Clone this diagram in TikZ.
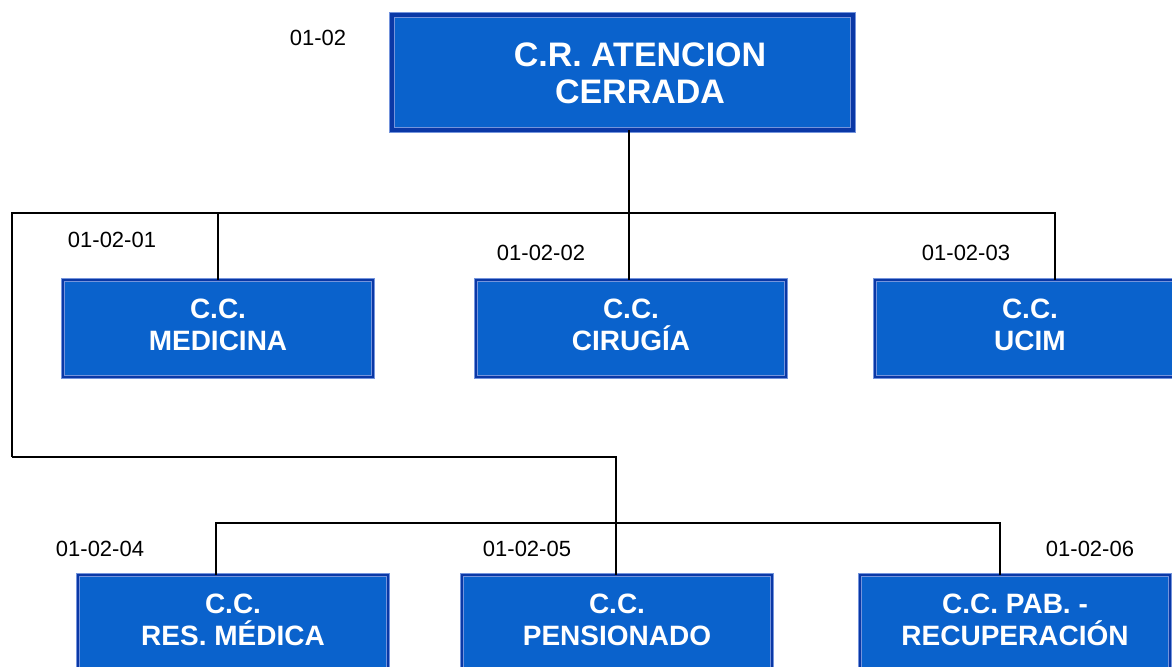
\documentclass[tikz,border=0pt]{standalone}
\usepackage{fontspec}
\setmainfont{Liberation Sans}
\definecolor{boxblue}{HTML}{0A62CC}
\definecolor{boxdark}{HTML}{0A38A6}
\definecolor{boxlight}{HTML}{7494DC}
\begin{document}
\begin{tikzpicture}[x=0.75pt,y=-0.75pt,
    link/.style={line width=2.1pt},
    code/.style={font=\fontsize{16.5}{18}\selectfont},
    unit/.style={fill=boxblue,draw=boxlight,double=boxdark,double distance=1.5pt,
      line width=0.75pt,text=white,align=center,inner sep=0pt,outer sep=0pt,
      minimum width=232.5pt,minimum height=72.75pt,text depth=6pt,
      font=\fontsize{21}{24}\selectfont\bfseries},
    head/.style={unit,double distance=3pt,minimum width=345.75pt,minimum height=86.25pt},
    headtext/.style={text=white,align=center,inner sep=0pt,
      font=\fontsize{25.5}{28}\selectfont\bfseries}]
    \useasboundingbox (0,0) rectangle (1172,667);
    % boxes
    \node[head] (cr) at (622.5,72.5) {};
    \node[headtext] (crtext) at (640,73) {C.R. ATENCION\\CERRADA};
    \node[unit] (med) at (218,328.5) {C.C.\\MEDICINA};
    \node[unit] (cir) at (631,328.5) {C.C.\\CIRUGÍA};
    \node[unit] (ucim) at (1030,328.5) {C.C.\\UCIM};
    \node[unit] (res) at (233,623.5) {C.C.\\RES. MÉDICA};
    \node[unit] (pen) at (617,623.5) {C.C.\\PENSIONADO};
    \node[unit] (pab) at (1015,623.5) {C.C. PAB. -\\RECUPERACIÓN};
    % codes
    \node[code] (kcr) at (318,38) {01-02};
    \node[code] (kmed) at (112,240) {01-02-01};
    \node[code] (kcir) at (541,253) {01-02-02};
    \node[code] (kucim) at (966,253) {01-02-03};
    \node[code] (kres) at (100,549) {01-02-04};
    \node[code] (kpen) at (527,549) {01-02-05};
    \node[code] (kpab) at (1090,549) {01-02-06};
    % lines
    \coordinate (stem) at (629,213);
    \coordinate (upL) at (12,213);
    \coordinate (upR) at (1055,213);
    \coordinate (loL) at (12,457);
    \coordinate (loM) at (616,457);
    \coordinate (baL) at (216,523);
    \coordinate (baR) at (1000,523);
    \draw[link] (cr.south -| stem) -- (cir.north -| stem);
    \draw[link] (loL) -- (upL) -- (upR) -- (upR |- ucim.north);
    \draw[link] (med.north |- upL) -- (med.north);
    \draw[link] (loL) -- (loM) -- (loM |- pen.north);
    \draw[link] (baL |- res.north) -- (baL) -- (baR) -- (baR |- pab.north);
\end{tikzpicture}
\end{document}
